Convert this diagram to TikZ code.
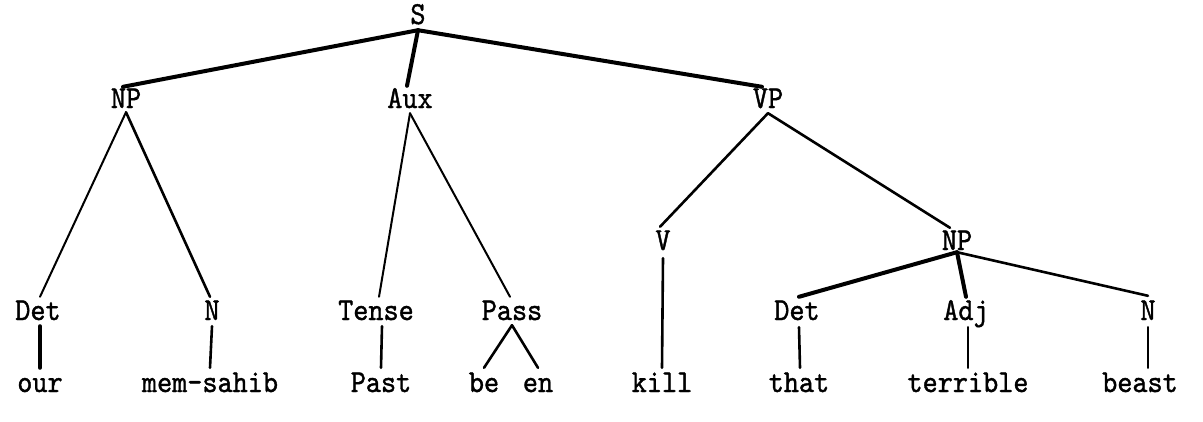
\documentclass[tikz,border=0pt]{standalone}
\usepackage{fontspec}
\newfontfamily\typew{lmmono10-regular.otf}[FakeBold=1.2, FakeStretch=0.9]
\tikzset{
  lbl/.style={inner sep=0pt, anchor=base, text height=19pt, text depth=0pt,
              font=\fontsize{32}{38}\selectfont\typew},
  edge/.style={line width=2.6pt, line cap=round, black},
  heavy/.style={edge, line width=4pt},
  light/.style={edge, line width=2pt}
}
\begin{document}
\begin{tikzpicture}[x=1pt, y=-1pt]
\useasboundingbox (0,0) rectangle (1203,421);
% labels: root, phrase level, lexical level, words
\node[lbl] (S)     at (418,24)   {S};
\node[lbl] (NPa)   at (126,108)  {NP};
\node[lbl] (Aux)   at (410,108)  {Aux};
\node[lbl] (VP)    at (768,108)  {VP};
\node[lbl] (V)     at (663,250)  {V};
\node[lbl] (NPb)   at (957,250)  {NP};
\node[lbl] (Deta)  at (38,320)   {Det};
\node[lbl] (Na)    at (212,320)  {N};
\node[lbl] (Tense) at (376,320)  {Tense};
\node[lbl] (Pass)  at (512,320)  {Pass};
\node[lbl] (Detb)  at (797,320)  {Det};
\node[lbl] (Adj)   at (966,320)  {Adj};
\node[lbl] (Nb)    at (1148,320) {N};
\node[lbl] (our)   at (40,392)   {our};
\node[lbl] (mem)   at (210,392)  {mem-sahib};
\node[lbl] (Past)  at (381,392)  {Past};
\node[lbl] (be)    at (484,392)  {be};
\node[lbl] (en)    at (538,392)  {en};
\node[lbl] (kill)  at (662,392)  {kill};
\node[lbl] (that)  at (799,392)  {that};
\node[lbl] (terr)  at (968,392)  {terrible};
\node[lbl] (beast) at (1140,392) {beast};
% branches
\draw[heavy] ([yshift=-6pt]S.south) -- ([xshift=-3pt,yshift=2pt]NPa.north);
\draw[heavy] ([yshift=-6pt]S.south) -- ([xshift=-3pt,yshift=3pt]Aux.north);
\draw[heavy] ([yshift=-6pt]S.south) -- ([xshift=-6pt,yshift=2pt]VP.north);
\draw[light] ([yshift=-4pt]NPa.south) -- ([xshift=2pt,yshift=4pt]Deta.north);
\draw[edge]  ([yshift=-4pt]NPa.south) -- ([xshift=-2pt,yshift=4pt]Na.north);
\draw[light] ([yshift=-5pt]Aux.south) -- ([xshift=3pt,yshift=4pt]Tense.north);
\draw[light] ([yshift=-5pt]Aux.south) -- ([xshift=-2pt,yshift=4pt]Pass.north);
\draw[edge]  ([yshift=-5pt]VP.south) -- ([xshift=-3pt,yshift=4pt]V.north);
\draw[edge]  ([yshift=-5pt]VP.south) -- ([xshift=-7pt,yshift=3pt]NPb.north);
\draw[heavy] ([yshift=-2pt]NPb.south) -- ([xshift=2pt,yshift=4pt]Detb.north);
\draw[heavy] ([yshift=-2pt]NPb.south) -- ([yshift=4pt]Adj.north);
\draw[edge]  ([yshift=-2pt]NPb.south) -- ([yshift=5pt]Nb.north);
\draw[edge]  ([yshift=-8pt]V.south) -- ([yshift=5pt]kill.north);
\draw[heavy] ([xshift=2pt,yshift=-6pt]Deta.south) -- ([yshift=5pt]our.north);
\draw[edge]  ([yshift=-6pt]Na.south) -- ([yshift=5pt]mem.north);
\draw[edge]  ([xshift=6pt,yshift=-6pt]Tense.south) -- ([yshift=5pt]Past.north);
\draw[edge]  ([yshift=-5pt]Pass.south) -- ([yshift=5pt]be.north);
\draw[edge]  ([yshift=-5pt]Pass.south) -- ([yshift=5pt]en.north);
\draw[edge]  ([xshift=2pt,yshift=-7pt]Detb.south) -- ([xshift=1pt,yshift=5pt]that.north);
\draw[edge]  ([xshift=2pt,yshift=-7pt]Adj.south) -- ([yshift=5pt]terr.north);
\draw[edge]  ([yshift=-7pt]Nb.south) -- ([xshift=8pt,yshift=5pt]beast.north);
\end{tikzpicture}
\end{document}
